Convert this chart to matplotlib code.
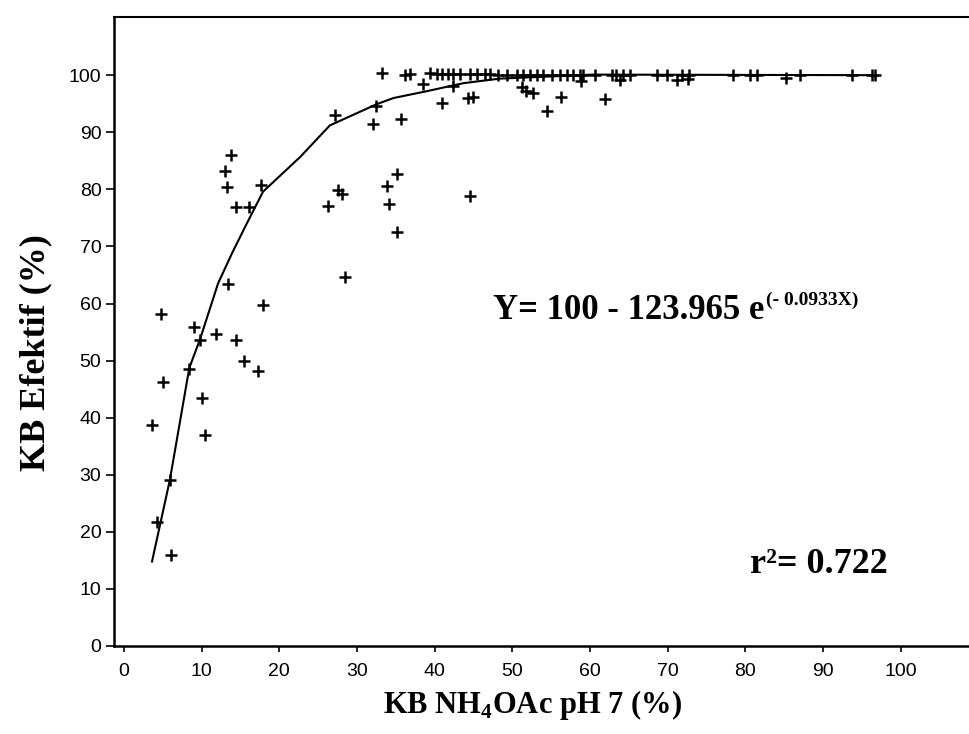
import matplotlib
matplotlib.use('Agg')
import matplotlib.pyplot as plt

# KB NH4OAc pH 7 (%) vs KB Efektif (%)
kb_nh4oac = [
    33.2, 36.2, 36.8, 38.5, 39.4, 40.3, 40.9, 40.9, 41.7, 42.3, 42.3, 43.2,
    44.3, 44.9, 44.5, 44.5, 45.4, 46.5, 47.1, 48.1, 49.3, 50.6, 51.2, 51.4,
    51.8, 52.3, 52.6, 53.2, 53.9, 54.4, 55.1, 56.1, 56.3, 57.0, 57.8, 58.7,
    58.9, 59.1, 60.6, 61.9, 62.8, 63.4, 63.8, 64.2, 65.1, 68.6, 69.9, 71.2,
    71.8, 72.6, 72.8, 78.4, 80.6, 81.5, 85.3, 87.0, 93.7, 96.3, 96.7,
    27.1, 32.4, 32.0, 35.7, 13.8, 13.0, 13.3, 17.6, 14.4, 16.1, 26.3, 27.6,
    28.0, 33.9, 35.1, 34.1, 35.1, 28.4, 13.4, 17.9, 4.7, 9.0, 11.9, 14.4,
    9.8, 3.6, 5.0, 8.4, 10.0, 10.4, 15.4, 17.3, 5.9, 4.3, 6.0,
]
kb_efektif = [
    100.3, 100.1, 100.2, 98.4, 100.3, 100.2, 95.1, 100.2, 100.2, 98.1, 100.2, 100.2,
    96.0, 96.2, 100.2, 78.8, 100.2, 100.2, 100.2, 100.1, 100.1, 100.1, 98.0, 100.1,
    97.3, 100.1, 96.9, 100.1, 100.1, 93.8, 100.1, 100.1, 96.2, 100.1, 100.1, 100.1,
    99.0, 100.1, 100.1, 95.9, 100.1, 100.0, 99.2, 100.0, 100.0, 100.0, 100.0, 99.1,
    100.0, 99.4, 100.0, 100.0, 100.0, 100.0, 99.5, 100.0, 100.0, 100.0, 100.0,
    93.0, 94.6, 91.4, 92.4, 86.1, 83.3, 80.4, 80.8, 76.9, 76.9, 77.1, 79.8,
    79.2, 80.6, 82.7, 77.5, 72.6, 64.7, 63.4, 59.7, 58.1, 55.8, 54.6, 53.6,
    53.6, 38.7, 46.2, 48.6, 43.4, 37.0, 50.0, 48.1, 29.0, 21.8, 15.9,
]

# fitted curve as drawn in the figure
fit_x = [3.6, 5.9, 8.4, 9.8, 12.1, 13.9, 15.8, 17.9, 22.7, 26.5, 32.5, 34.7,
         39.0, 43.7, 48.4, 60.4, 96.7]
fit_y = [14.8, 29.1, 48.7, 53.8, 63.5, 68.8, 74.0, 79.6, 85.7, 91.2, 94.9, 96.0,
         97.2, 98.6, 99.4, 100.1, 100.0]

xticks = [0, 10, 20, 30, 40, 50, 60, 70, 80, 90, 100]
yticks = [0, 10, 20, 30, 40, 50, 60, 70, 80, 90, 100]

serif = 'Liberation Serif'
sans = 'Liberation Sans'
plt.rcParams['mathtext.fontset'] = 'custom'
plt.rcParams['mathtext.bf'] = 'Liberation Serif:bold'
plt.rcParams['mathtext.rm'] = 'Liberation Serif'

fig = plt.figure(figsize=(9.69, 7.34), dpi=100)
ax = fig.add_axes([0.1176, 0.1199, 0.8824, 0.857])

ax.plot(fit_x, fit_y, color='black', linewidth=1.5)
ax.plot(kb_nh4oac, kb_efektif, linestyle='none', marker='+', color='black',
        markersize=9, markeredgewidth=1.8)

ax.set_xlim(-1.3, 108.8)
ax.set_ylim(0, 110.2)
ax.set_xticks(xticks)
ax.set_yticks(yticks)

ax.spines['right'].set_visible(False)
for s in ['left', 'bottom']:
    ax.spines[s].set_linewidth(1.8)
ax.spines['top'].set_linewidth(1.5)

ax.tick_params(axis='x', direction='out', length=4, width=1.2, pad=8,
               labelsize=14)
ax.tick_params(axis='y', direction='out', length=6, width=1.2, pad=3,
               labelsize=14)
for lab in ax.get_xticklabels() + ax.get_yticklabels():
    lab.set_family(sans)

ax.set_ylabel('KB Efektif (%)', fontsize=26, family=serif, fontweight='bold')
ax.yaxis.set_label_coords(-0.072, 0.467)
ax.set_xlabel('KB NH$_\\mathbf{4}$OAc pH 7 (%)', fontsize=22, family=serif,
              fontweight='bold')
ax.xaxis.set_label_coords(0.49, -0.066)

eq = ax.text(0.443, 0.534, 'Y= 100 - 123.965 e', transform=ax.transAxes,
             fontsize=25, family=serif, fontweight='bold', ha='left', va='center')
ax.annotate('(- 0.0933X)', xy=(1.0, 0.8), xycoords=eq, xytext=(1, 0),
            textcoords='offset points', fontsize=14, family=serif,
            fontweight='bold', ha='left', va='center')

ax.text(0.744, 0.130, 'r²= 0.722', transform=ax.transAxes, fontsize=26,
        family=serif, fontweight='bold', ha='left', va='center')

plt.savefig('out.png', dpi=100)
